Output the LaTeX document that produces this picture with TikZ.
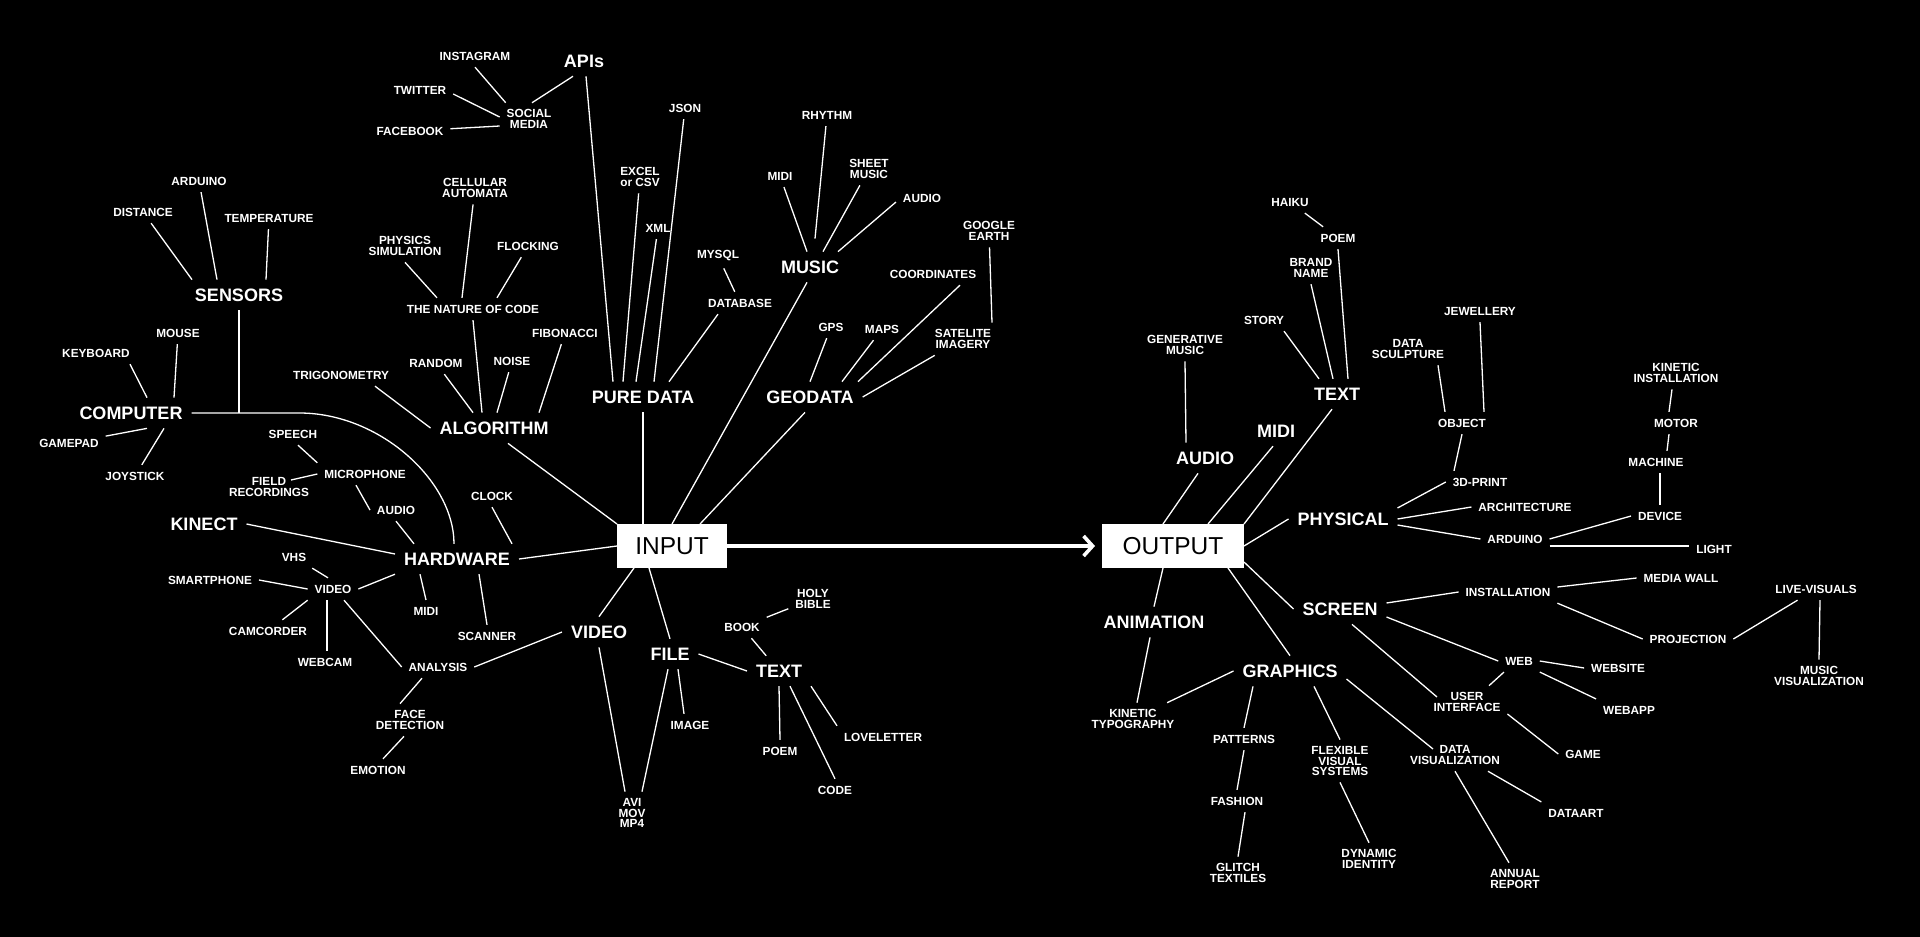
\documentclass[tikz,border=0pt]{standalone}
\usepackage{fontspec}
\setmainfont{Liberation Sans}
\usetikzlibrary{arrows.meta}

\begin{document}
\begin{tikzpicture}[x=1pt, y=-1pt,
    every node/.style={text=white, align=center, outer sep=0pt},
    leaf/.style={font=\bfseries\fontsize{11.8}{10.3}\selectfont, inner sep=7pt},
    hub/.style={font=\bfseries\fontsize{18}{18}\selectfont, inner sep=9pt},
    io/.style={fill=white, text=black, font=\fontsize{24.5}{24.5}\selectfont, minimum height=44pt, inner sep=0pt},
    link/.style={draw=white, line width=1.3pt},
    flow/.style={draw=white, line width=3.6pt, -{Straight Barb[length=9pt, width=20pt]}, shorten >=7pt}]
    \fill[black] (0,0) rectangle (1920,937);

    % Input / output
    \node[io, minimum width=110pt] (input) at (672,546) {INPUT};
    \node[io, minimum width=142pt] (output) at (1173,546) {OUTPUT};
    \draw[flow] (input.east) -- (output.west);

    % Input side: main branches
    \node[hub] (apis) at (584,61) {APIs};
    \node[hub] (puredata) at (643,397) {PURE DATA};
    \node[hub] (music) at (810,267) {MUSIC};
    \node[hub] (geodata) at (810,397) {GEODATA};
    \node[hub] (sensors) at (239,295) {SENSORS};
    \node[hub] (algorithm) at (494,428) {ALGORITHM};
    \node[hub] (computer) at (131,413) {COMPUTER};
    \node[hub] (kinect) at (204,524) {KINECT};
    \node[hub] (hardware) at (457,559) {HARDWARE};
    \node[hub] (videoin) at (599,632) {VIDEO};
    \node[hub] (file) at (670,654) {FILE};
    \node[hub] (textin) at (779,671) {TEXT};

    % Input side: leaves
    \node[leaf] (instagram) at (475,56) {INSTAGRAM};
    \node[leaf] (twitter) at (420,90) {TWITTER};
    \node[leaf] (facebook) at (410,131) {FACEBOOK};
    \node[leaf] (socialmedia) at (529,119) {SOCIAL\\MEDIA};
    \node[leaf] (json) at (685,108) {JSON};
    \node[leaf] (excel) at (640,177) {EXCEL\\or CSV};
    \node[leaf] (xml) at (658,228) {XML};
    \node[leaf] (mysql) at (718,256) {MYSQL};
    \node[leaf] (database) at (740,303) {DATABASE};
    \node[leaf] (rhythm) at (827,115) {RHYTHM};
    \node[leaf] (midimusic) at (780,176) {MIDI};
    \node[leaf] (sheet) at (869,169) {SHEET\\MUSIC};
    \node[leaf] (audiomusic) at (922,198) {AUDIO};
    \node[leaf] (google) at (989,231) {GOOGLE\\EARTH};
    \node[leaf] (coordinates) at (933,274) {COORDINATES};
    \node[leaf] (gps) at (831,327) {GPS};
    \node[leaf] (maps) at (882,329) {MAPS};
    \node[leaf] (satelite) at (963,339) {SATELITE\\IMAGERY};
    \node[leaf] (arduinosens) at (199,181) {ARDUINO};
    \node[leaf] (distance) at (143,212) {DISTANCE};
    \node[leaf] (temperature) at (269,218) {TEMPERATURE};
    \node[leaf] (cellular) at (475,188) {CELLULAR\\AUTOMATA};
    \node[leaf] (physics) at (405,246) {PHYSICS\\SIMULATION};
    \node[leaf] (flocking) at (528,246) {FLOCKING};
    \node[leaf] (nature) at (473,309) {THE NATURE OF CODE};
    \node[leaf] (trig) at (341,375) {TRIGONOMETRY};
    \node[leaf] (random) at (436,363) {RANDOM};
    \node[leaf] (noise) at (512,361) {NOISE};
    \node[leaf] (fibonacci) at (565,333) {FIBONACCI};
    \node[leaf] (mouse) at (178,333) {MOUSE};
    \node[leaf] (keyboard) at (96,353) {KEYBOARD};
    \node[leaf] (gamepad) at (69,443) {GAMEPAD};
    \node[leaf] (joystick) at (135,476) {JOYSTICK};
    \node[leaf] (speech) at (293,434) {SPEECH};
    \node[leaf] (microphone) at (365,474) {MICROPHONE};
    \node[leaf] (field) at (269,487) {FIELD\\RECORDINGS};
    \node[leaf] (audiohw) at (396,510) {AUDIO};
    \node[leaf] (clock) at (492,496) {CLOCK};
    \node[leaf] (vhs) at (294,557) {VHS};
    \node[leaf] (smartphone) at (210,580) {SMARTPHONE};
    \node[leaf] (videohw) at (333,589) {VIDEO};
    \node[leaf] (midihw) at (426,611) {MIDI};
    \node[leaf] (camcorder) at (268,631) {CAMCORDER};
    \node[leaf] (scanner) at (487,636) {SCANNER};
    \node[leaf] (webcam) at (325,662) {WEBCAM};
    \node[leaf] (analysis) at (438,667) {ANALYSIS};
    \node[leaf] (face) at (410,720) {FACE\\DETECTION};
    \node[leaf] (emotion) at (378,770) {EMOTION};
    \node[leaf] (holybible) at (813,599) {HOLY\\BIBLE};
    \node[leaf] (book) at (742,627) {BOOK};
    \node[leaf] (image) at (690,725) {IMAGE};
    \node[leaf] (loveletter) at (883,737) {LOVELETTER};
    \node[leaf] (poemin) at (780,751) {POEM};
    \node[leaf] (code) at (835,790) {CODE};
    \node[leaf] (avi) at (632,813) {AVI\\MOV\\MP4};

    % APIs and pure data
    \draw[link] (instagram.south) -- ([xshift=6]socialmedia.north west);
    \draw[link] ([shift={(0,4)}]twitter.east) -- ([shift={(0,-2)}]socialmedia.west);
    \draw[link] (facebook) -- ([shift={(0,7)}]socialmedia.west);
    \draw[link] ([xshift=3]socialmedia.north) -- ([xshift=-11]apis.south);
    \draw[link] ([xshift=2]apis.south) -- ([xshift=-30]puredata.north);
    \draw[link] (excel) -- ([xshift=-20]puredata.north);
    \draw[link] (xml) -- ([xshift=-7]puredata.north);
    \draw[link] (json) -- ([xshift=11]puredata.north);
    \draw[link] ([xshift=-22]database.south) -- ([xshift=26]puredata.north);
    \draw[link] (mysql) -- (database);
    \draw[link] (puredata.south) -- (puredata.south |- input.north);

    % Music
    \draw[link] (midimusic) -- ([xshift=-3]music.north);
    \draw[link] (rhythm) -- ([shift={(5,-13)}]music.north);
    \draw[link] (sheet) -- ([xshift=13]music.north);
    \draw[link] ([shift={(0,4)}]audiomusic.west) -- ([xshift=28]music.north);
    \draw[link] ([xshift=-3]music.south) -- (input.north);

    % Geodata
    \draw[link] (gps) -- (geodata.north);
    \draw[link] (maps) -- ([xshift=32]geodata.north);
    \draw[link] ([xshift=27]coordinates.south) -- ([xshift=48]geodata.north);
    \draw[link] (satelite) -- (geodata.east);
    \draw[link] (google) -- ([xshift=29]satelite.north);
    \draw[link] ([xshift=-5]geodata.south) -- ([xshift=28]input.north);

    % Sensors and computer
    \draw[link] (distance) -- ([xshift=-47]sensors.north);
    \draw[link] (arduinosens) -- ([xshift=-22]sensors.north);
    \draw[link] (temperature) -- ([xshift=27]sensors.north);
    \draw[link] (sensors.south) -- (sensors.south |- computer.east);
    \draw[link] ([xshift=34]keyboard.south) -- ([xshift=16]computer.north);
    \draw[link] (mouse) -- ([xshift=43]computer.north);
    \draw[link] (gamepad) -- ([xshift=16]computer.south);
    \draw[link] (joystick) -- ([xshift=33]computer.south);
    \draw[link] (computer.east) -- ++(108,0) .. controls +(80,0) and +(0,-63) .. ([xshift=-3]hardware.north);

    % Algorithm
    \draw[link] (physics.south) -- ([xshift=-36]nature.north);
    \draw[link] (cellular) -- ([xshift=-11]nature.north);
    \draw[link] (flocking) -- ([xshift=24]nature.north);
    \draw[link] (nature.south) -- ([xshift=-12]algorithm.north);
    \draw[link] (random) -- ([xshift=-21]algorithm.north);
    \draw[link] (noise) -- ([xshift=3]algorithm.north);
    \draw[link] (fibonacci) -- ([xshift=45]algorithm.north);
    \draw[link] ([xshift=34]trig.south) -- (algorithm.west);
    \draw[link] ([xshift=14]algorithm.south) -- (input.north west);

    % Hardware
    \draw[link] ([xshift=5]speech.south) -- (microphone.north west);
    \draw[link] ([shift={(22,-7)}]field.center) -- (microphone.west);
    \draw[link] ([xshift=-9]microphone.south) -- (audiohw.west);
    \draw[link] (audiohw.south) -- ([xshift=-43]hardware.north);
    \draw[link] (clock.south) -- ([xshift=55]hardware.north);
    \draw[link] (kinect.east) -- ([shift={(0,-5)}]hardware.west);
    \draw[link] (hardware.south west) -- (videohw.east);
    \draw[link] ([xshift=-37]hardware.south) -- (midihw.north);
    \draw[link] ([xshift=22]hardware.south) -- (scanner.north);
    \draw[link] (hardware.east) -- (input.west);
    \draw[link] (vhs) -- ([xshift=-5]videohw.north);
    \draw[link] (smartphone.east) -- (videohw.west);
    \draw[link] (videohw.south west) -- (camcorder);
    \draw[link] ([xshift=-6]videohw.south) -- ([xshift=2]webcam.north);
    \draw[link] ([xshift=11]videohw.south) -- (analysis.west);
    \draw[link] ([xshift=-16]analysis.south) -- ([xshift=-10]face.north);
    \draw[link] ([xshift=-6]face.south) -- ([xshift=5]emotion.north);

    % Video, file, text
    \draw[link] ([xshift=-38]input.south) -- (videoin.north);
    \draw[link] ([xshift=-23]input.south) -- (file.north);
    \draw[link] (videoin.west) -- (analysis.east);
    \draw[link] (videoin.south) -- ([xshift=-7]avi.north);
    \draw[link] ([xshift=-2]file.south) -- ([xshift=10]avi.north);
    \draw[link] ([xshift=8]file.south) -- ([xshift=-6]image.north);
    \draw[link] (file.east) -- (textin.west);
    \draw[link] (book) -- (textin);
    \draw[link] (book) -- (holybible);
    \draw[link] (textin.south) -- (poemin.north);
    \draw[link] ([xshift=11]textin.south) -- (code.north);
    \draw[link] (textin.south east) -- (loveletter.north west);

    % Output side: main branches
    \node[hub] (textout) at (1337,394) {TEXT};
    \node[hub] (midiout) at (1276,431) {MIDI};
    \node[hub] (audioout) at (1205,458) {AUDIO};
    \node[hub] (physical) at (1343,519) {PHYSICAL};
    \node[hub] (screen) at (1340,609) {SCREEN};
    \node[hub] (animation) at (1154,622) {ANIMATION};
    \node[hub] (graphics) at (1290,671) {GRAPHICS};

    % Output side: leaves
    \node[leaf] (haiku) at (1290,202) {HAIKU};
    \node[leaf] (poemout) at (1338,238) {POEM};
    \node[leaf] (brand) at (1311,268) {BRAND\\NAME};
    \node[leaf] (story) at (1264,320) {STORY};
    \node[leaf] (generative) at (1185,345) {GENERATIVE\\MUSIC};
    \node[leaf] (sculpture) at (1408,349) {DATA\\SCULPTURE};
    \node[leaf] (jewellery) at (1480,311) {JEWELLERY};
    \node[leaf] (object) at (1462,423) {OBJECT};
    \node[leaf] (kineticinst) at (1676,373) {KINETIC\\INSTALLATION};
    \node[leaf] (motor) at (1676,423) {MOTOR};
    \node[leaf] (machine) at (1656,462) {MACHINE};
    \node[leaf] (print) at (1480,482) {3D-PRINT};
    \node[leaf] (architecture) at (1525,507) {ARCHITECTURE};
    \node[leaf] (device) at (1660,516) {DEVICE};
    \node[leaf] (arduinoout) at (1515,539) {ARDUINO};
    \node[leaf] (light) at (1714,549) {LIGHT};
    \node[leaf] (mediawall) at (1681,578) {MEDIA WALL};
    \node[leaf] (installation) at (1508,592) {INSTALLATION};
    \node[leaf] (livevisuals) at (1816,589) {LIVE-VISUALS};
    \node[leaf] (projection) at (1688,639) {PROJECTION};
    \node[leaf] (web) at (1519,661) {WEB};
    \node[leaf] (website) at (1618,668) {WEBSITE};
    \node[leaf] (musicviz) at (1819,676) {MUSIC\\VISUALIZATION};
    \node[leaf] (userinterface) at (1467,702) {USER\\INTERFACE};
    \node[leaf] (webapp) at (1629,710) {WEBAPP};
    \node[leaf] (kinetictypo) at (1133,719) {KINETIC\\TYPOGRAPHY};
    \node[leaf] (patterns) at (1244,739) {PATTERNS};
    \node[leaf] (game) at (1583,754) {GAME};
    \node[leaf] (dataviz) at (1455,755) {DATA\\VISUALIZATION};
    \node[leaf] (flexible) at (1340,761) {FLEXIBLE\\VISUAL\\SYSTEMS};
    \node[leaf] (fashion) at (1237,801) {FASHION};
    \node[leaf] (dataart) at (1576,813) {DATAART};
    \node[leaf] (dynamic) at (1369,859) {DYNAMIC\\IDENTITY};
    \node[leaf] (glitch) at (1238,873) {GLITCH\\TEXTILES};
    \node[leaf] (annual) at (1515,879) {ANNUAL\\REPORT};

    % Audio, midi, text
    \draw[link] (generative.south) -- ([xshift=-19]audioout.north);
    \draw[link] ([xshift=-7]audioout.south) -- ([xshift=-10]output.north);
    \draw[link] ([xshift=-3]midiout.south) -- ([xshift=35]output.north);
    \draw[link] ([xshift=-5]textout.south) -- (output.north east);
    \draw[link] (haiku) -- (poemout);
    \draw[link] ([xshift=20]story.south) -- ([xshift=-18]textout.north);
    \draw[link] (brand.south) -- ([xshift=-4]textout.north);
    \draw[link] (poemout.south) -- ([xshift=11]textout.north);

    % Physical
    \draw[link] (output.east) -- (physical.west);
    \draw[link] ([shift={(0,-11)}]physical.east) -- (print.west);
    \draw[link] (physical.east) -- (architecture.west);
    \draw[link] ([shift={(0,6)}]physical.east) -- (arduinoout.west);
    \draw[link] ([xshift=-26]print.north) -- (object.south);
    \draw[link] ([xshift=-17]object.north) -- ([xshift=30]sculpture.south);
    \draw[link] ([xshift=22]object.north) -- (jewellery.south);
    \draw[link] (arduinoout.east) -- (device.west);
    \draw[link] ([shift={(0,7)}]arduinoout.east) -- ([shift={(0,-3)}]light.west);
    \draw[link] (device.north) -- ([xshift=4]machine.south);
    \draw[link] ([xshift=11]machine.north) -- ([xshift=-7]motor.south);
    \draw[link] ([xshift=-7]motor.north) -- ([xshift=-4]kineticinst.south);

    % Screen
    \draw[link] ([shift={(0,16)}]output.east) -- (screen.west);
    \draw[link] ([shift={(0,-6)}]screen.east) -- (installation.west);
    \draw[link] ([shift={(0,8)}]screen.east) -- (web.west);
    \draw[link] ([xshift=12]screen.south) -- ([shift={(-30,-5)}]userinterface.center);
    \draw[link] ([shift={(0,-5)}]installation.east) -- (mediawall.west);
    \draw[link] (installation.south east) -- (projection.west);
    \draw[link] (projection.east) -- (livevisuals);
    \draw[link] ([xshift=4]livevisuals.south) -- (musicviz.north);
    \draw[link] (web.east) -- (website.west);
    \draw[link] (web.south east) -- (webapp.north west);
    \draw[link] ([xshift=-15]web.south) -- ([xshift=22]userinterface.north);
    \draw[link] ([shift={(0,12)}]userinterface.east) -- (game.west);

    % Animation and graphics
    \draw[link] ([xshift=55]output.south) -- (graphics.north);
    \draw[link] ([xshift=-10]output.south) -- (animation.north);
    \draw[link] ([xshift=-4]animation.south) -- ([xshift=4]kinetictypo.north);
    \draw[link] (graphics.west) -- (kinetictypo);
    \draw[link] ([xshift=-37]graphics.south) -- (patterns.north);
    \draw[link] (patterns.south) -- (fashion.north);
    \draw[link] ([xshift=8]fashion.south) -- (glitch.north);
    \draw[link] ([xshift=24]graphics.south) -- (flexible.north);
    \draw[link] (flexible.south) -- (dynamic.north);
    \draw[link] ([shift={(0,8)}]graphics.east) -- ([shift={(-22,-6)}]dataviz.center);
    \draw[link] ([xshift=33]dataviz.south) -- (dataart.north west);
    \draw[link] (dataviz.south) -- ([xshift=-6]annual.north);
\end{tikzpicture}
\end{document}
